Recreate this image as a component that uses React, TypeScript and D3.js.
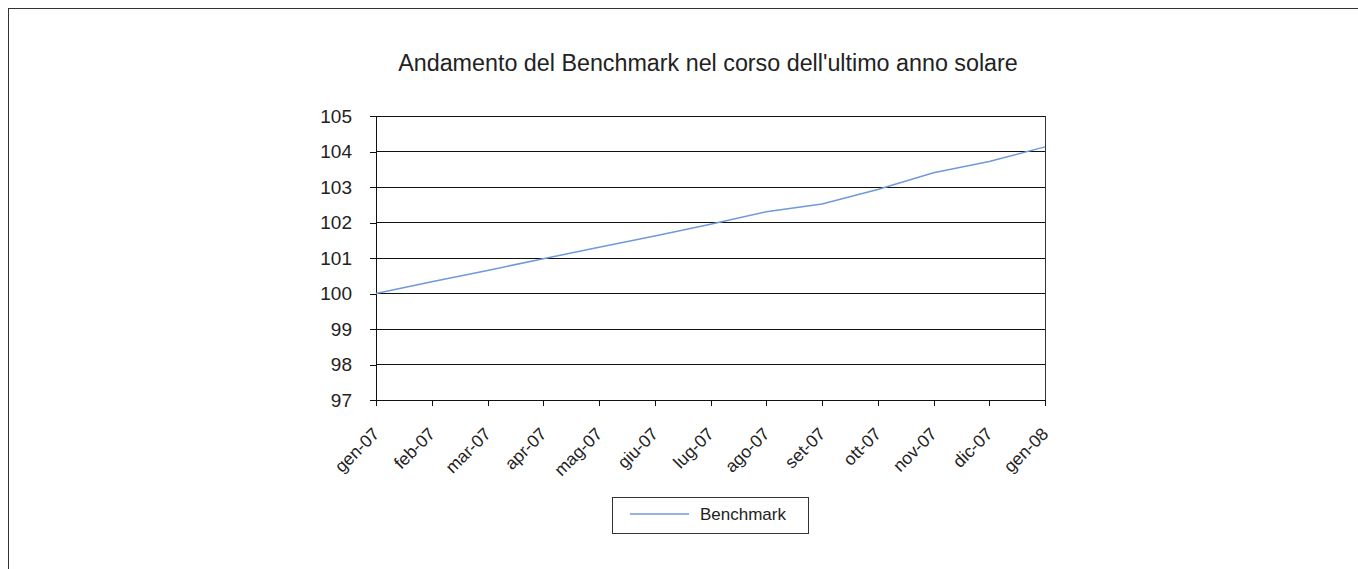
import React, { useEffect, useRef } from "react";
import * as d3 from "d3";

const months = [
  "gen-07", "feb-07", "mar-07", "apr-07", "mag-07", "giu-07", "lug-07",
  "ago-07", "set-07", "ott-07", "nov-07", "dic-07", "gen-08",
];
const benchmark = [
  100, 100.33, 100.65, 100.98, 101.3, 101.62, 101.95,
  102.3, 102.52, 102.93, 103.4, 103.72, 104.13,
];
const yTicks = [97, 98, 99, 100, 101, 102, 103, 104, 105];
const title = "Andamento del Benchmark nel corso dell'ultimo anno solare";
const seriesName = "Benchmark";

const App = () => {
  const svgRef = useRef<SVGSVGElement>(null);

  useEffect(() => {
    document.body.style.margin = "0";
    const width = 1358;
    const height = 569;
    const margin = { top: 116, left: 376, right: 313, bottom: 169 };
    const font = "'Liberation Sans', Arial, sans-serif";

    const svg = d3.select(svgRef.current).attr("width", width).attr("height", height);
    svg.selectAll("*").remove();

    // outer frame (right/bottom edges fall outside the page)
    svg.append("rect")
      .attr("x", 8.5).attr("y", 8.5)
      .attr("width", 1400).attr("height", 600)
      .attr("fill", "#fff").attr("stroke", "#333").attr("stroke-width", 1);

    svg.append("text")
      .attr("x", 708).attr("y", 71)
      .attr("text-anchor", "middle")
      .attr("font-family", font).attr("font-size", 23.3).attr("fill", "#222")
      .text(title);

    const x = d3.scalePoint<string>()
      .domain(months)
      .range([margin.left, width - margin.right]);
    const y = d3.scaleLinear()
      .domain([97, 105])
      .range([height - margin.bottom, margin.top]);

    const g = svg.append("g").attr("shape-rendering", "crispEdges");

    // gridlines
    g.selectAll(".grid")
      .data(yTicks)
      .enter()
      .append("line")
      .attr("x1", margin.left).attr("x2", width - margin.right)
      .attr("y1", (d) => y(d)).attr("y2", (d) => y(d))
      .attr("stroke", "#111");

    // right border of plot
    g.append("line")
      .attr("x1", width - margin.right).attr("x2", width - margin.right)
      .attr("y1", margin.top).attr("y2", height - margin.bottom)
      .attr("stroke", "#333");

    const yAxis = d3.axisLeft(y).tickValues(yTicks).tickSize(6).tickPadding(18).tickFormat(d3.format("d"));
    const yg = svg.append("g").attr("transform", `translate(${margin.left},0)`).call(yAxis);
    yg.select(".domain").attr("stroke", "#111").attr("shape-rendering", "crispEdges");
    yg.selectAll(".tick line").attr("stroke", "#111").attr("shape-rendering", "crispEdges");
    yg.selectAll("text")
      .attr("font-family", font).attr("font-size", 19).attr("fill", "#222");

    const xAxis = d3.axisBottom(x).tickSize(6).tickSizeOuter(0);
    const xg = svg.append("g").attr("transform", `translate(0,${height - margin.bottom})`).call(xAxis);
    xg.select(".domain").attr("stroke", "#111").attr("shape-rendering", "crispEdges");
    xg.selectAll(".tick line").attr("stroke", "#111").attr("shape-rendering", "crispEdges");
    xg.selectAll("text")
      .attr("font-family", font).attr("font-size", 17.5).attr("fill", "#222")
      .attr("text-anchor", "end")
      .attr("dy", null)
      .attr("x", 4).attr("y", 35)
      .attr("transform", "rotate(-45, 4, 35)");

    const line = d3.line<number>()
      .x((_, i) => x(months[i]) as number)
      .y((d) => y(d));

    svg.append("path")
      .datum(benchmark)
      .attr("d", line)
      .attr("fill", "none")
      .attr("stroke", "#7099da")
      .attr("stroke-width", 1.5);

    // legend
    const lg = svg.append("g").attr("transform", "translate(612,497)");
    lg.append("rect")
      .attr("x", 0.5).attr("y", 0.5)
      .attr("width", 196).attr("height", 36)
      .attr("fill", "#fff").attr("stroke", "#333");
    lg.append("line")
      .attr("x1", 18).attr("x2", 77).attr("y1", 17).attr("y2", 17)
      .attr("stroke", "#7099da").attr("stroke-width", 1.5);
    lg.append("text")
      .attr("x", 88).attr("y", 23)
      .attr("font-family", font).attr("font-size", 17).attr("fill", "#222")
      .text(seriesName);
  }, []);

  return <svg ref={svgRef} style={{ display: "block" }}></svg>;
};

export default App;
